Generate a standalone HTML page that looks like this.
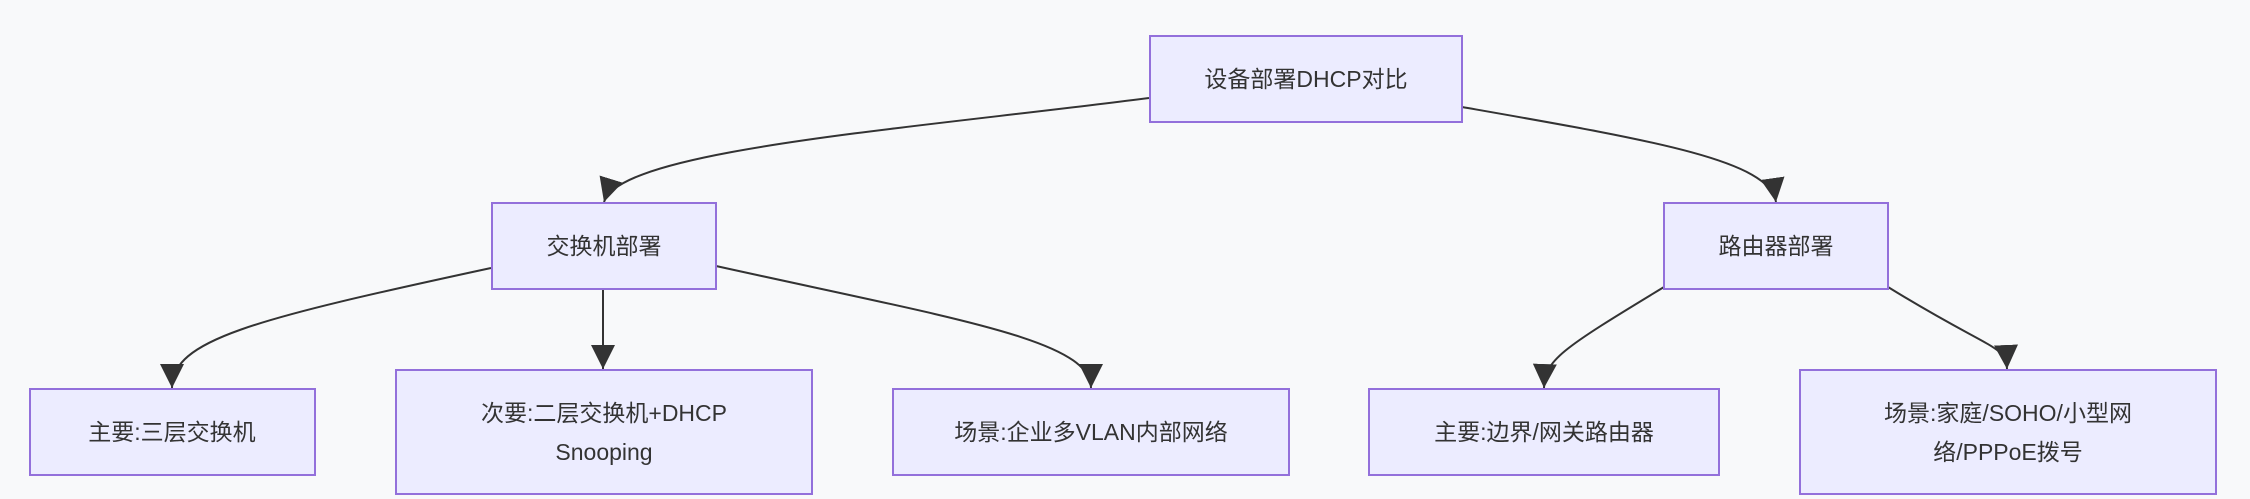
<!DOCTYPE html>
<html><head><meta charset="utf-8"><style>
html,body{margin:0;padding:0;background:#f8f9fa;}
svg{display:block;}
text{font-family:"Liberation Sans","Noto Sans CJK SC",sans-serif;font-size:23px;fill:#333;text-anchor:middle;dominant-baseline:central;}
rect{fill:#ECECFF;stroke:#9370DB;stroke-width:2;}
path.e{fill:none;stroke:#333;stroke-width:2;}
</style></head><body>
<svg width="2250" height="499" viewBox="0 0 2250 499" xmlns="http://www.w3.org/2000/svg">
<defs><marker id="a" viewBox="0 0 10 10" refX="9" refY="5" markerWidth="7" markerHeight="7" orient="auto" markerUnits="userSpaceOnUse"><path d="M0,0L10,5L0,10z" fill="#333"/></marker>
<marker id="b" viewBox="0 0 10 10" refX="10" refY="5" markerWidth="12" markerHeight="12" orient="auto"><path d="M0,0L10,5L0,10z" fill="#333"/></marker></defs>
<path class="e" marker-end="url(#b)" d="M1149,98 C900,130 620,150 604,202"/>
<path class="e" marker-end="url(#b)" d="M1462,107 C1650,140 1770,160 1776,202"/>
<path class="e" marker-end="url(#b)" d="M491,268 C250,320 172,340 172,388"/>
<path class="e" marker-end="url(#b)" d="M603,289 L603,369"/>
<path class="e" marker-end="url(#b)" d="M716,266 C960,320 1091,340 1091,388"/>
<path class="e" marker-end="url(#b)" d="M1664,287 C1560,350 1545,360 1544,388"/>
<path class="e" marker-end="url(#b)" d="M1888,287 C1990,350 2006,345 2007,369"/>
<rect x="1150" y="36" width="312" height="86"/><text x="1306" y="79">设备部署DHCP对比</text>
<rect x="492" y="203" width="224" height="86"/><text x="604" y="246">交换机部署</text>
<rect x="1664" y="203" width="224" height="86"/><text x="1776" y="246">路由器部署</text>
<rect x="30" y="389" width="285" height="86"/><text x="172" y="432">主要:三层交换机</text>
<rect x="396" y="370" width="416" height="124"/><text x="604" y="413">次要:二层交换机+DHCP</text><text x="604" y="452">Snooping</text>
<rect x="893" y="389" width="396" height="86"/><text x="1091" y="432">场景:企业多VLAN内部网络</text>
<rect x="1369" y="389" width="350" height="86"/><text x="1544" y="432">主要:边界/网关路由器</text>
<rect x="1800" y="370" width="416" height="124"/><text x="2008" y="413">场景:家庭/SOHO/小型网</text><text x="2008" y="452">络/PPPoE拨号</text>
</svg>
</body></html>
